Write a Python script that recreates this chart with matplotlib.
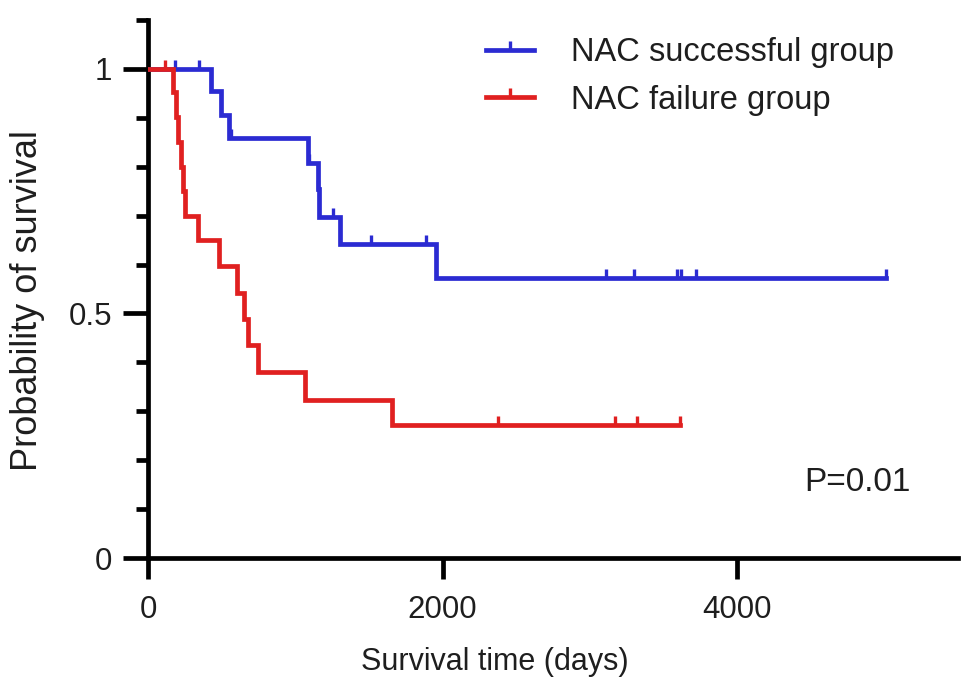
import numpy as np
import matplotlib
matplotlib.use("Agg")
import matplotlib.pyplot as plt
from matplotlib.path import Path
from matplotlib.lines import Line2D
from matplotlib.ticker import MultipleLocator

plt.rcParams['font.family'] = ['Liberation Sans', 'DejaVu Sans']

# Kaplan-Meier steps (days, survival)
success_t = [0, 430, 494, 548, 1085, 1153, 1162, 1304, 1957, 5010]
success_s = [1.0, 0.954, 0.906, 0.859, 0.807, 0.755, 0.698, 0.641, 0.573, 0.573]
success_censor = [180, 343, 565, 1095, 1157, 1259, 1516, 1891, 3113, 3302, 3590, 3620, 3718, 5010]

failure_t = [0, 172, 191, 207, 225, 236, 248, 338, 479, 603, 655, 678, 749, 1067, 1655, 3611]
failure_s = [1.0, 0.952, 0.901, 0.850, 0.800, 0.751, 0.700, 0.650, 0.597, 0.541, 0.488,
             0.435, 0.380, 0.324, 0.271, 0.271]
failure_censor = [116, 2375, 3172, 3320, 3611]

labels = ['NAC successful group', 'NAC failure group']
colors = ['#2b2bd2', '#e02020']
p_text = 'P=0.01'
txt_col = '#1e1e1e'

# censor tick: short line going up from the curve
tick = Path([(0, 0), (0, 1)], [Path.MOVETO, Path.LINETO])


def level_at(t, s, c):
    t = np.asarray(t)
    s = np.asarray(s)
    idx = np.searchsorted(t, c, side='right') - 1
    return s[idx]


fig = plt.figure(figsize=(9.69, 6.92), dpi=100)
ax = fig.add_axes([148 / 969, 134 / 692, 810 / 969, 538 / 692])

groups = [(success_t, success_s, success_censor), (failure_t, failure_s, failure_censor)]
handles = []
for (t, s, cens), col, lab in zip(groups, colors, labels):
    ax.step(t, s, where='post', color=col, lw=3.4, solid_joinstyle='miter', zorder=3)
    cens = np.asarray(cens)
    ax.plot(cens, level_at(t, s, cens), ls='none', marker=tick, ms=13, mew=2.4,
            color=col, zorder=3, clip_on=False)
    handles.append(Line2D([0], [0], color=col, lw=3.4, marker=tick, ms=13, mew=2.4))

ax.set_xlim(0, 5500)
ax.set_ylim(0, 1.1)
ax.set_xticks([0, 2000, 4000])
ax.set_yticks([0, 0.5, 1])
ax.set_yticklabels(['0', '0.5', '1'])
ax.yaxis.set_minor_locator(MultipleLocator(0.1))
ax.yaxis.set_minor_formatter(plt.NullFormatter())

for side in ['top', 'right']:
    ax.spines[side].set_visible(False)
for side in ['left', 'bottom']:
    ax.spines[side].set_linewidth(3.4)

ax.tick_params(axis='both', which='major', width=3.4, labelsize=22.5, labelcolor=txt_col)
ax.tick_params(axis='y', which='major', length=18, pad=8)
ax.tick_params(axis='y', which='minor', length=9, width=3.4)
ax.tick_params(axis='x', which='major', length=15, pad=12)

ax.set_xlabel('Survival time (days)', fontsize=22, color=txt_col)
ax.xaxis.set_label_coords((495 - 148) / 810, -0.165)
ax.set_ylabel('Probability of survival', fontsize=26, color=txt_col)
ax.yaxis.set_label_coords((45 - 148) / 810, (558 - 301) / 538)

ax.text(5180, 0.155, p_text, ha='right', va='center', fontsize=24, color=txt_col)

fig.legend(handles, labels, loc='upper left', bbox_to_anchor=(470 / 969, 1 - 21 / 692),
           frameon=False, fontsize=23.5, borderpad=0, handlelength=1.45,
           handletextpad=1.15, labelspacing=0.5, numpoints=1, labelcolor=txt_col)

fig.savefig('out.png', dpi=100)
